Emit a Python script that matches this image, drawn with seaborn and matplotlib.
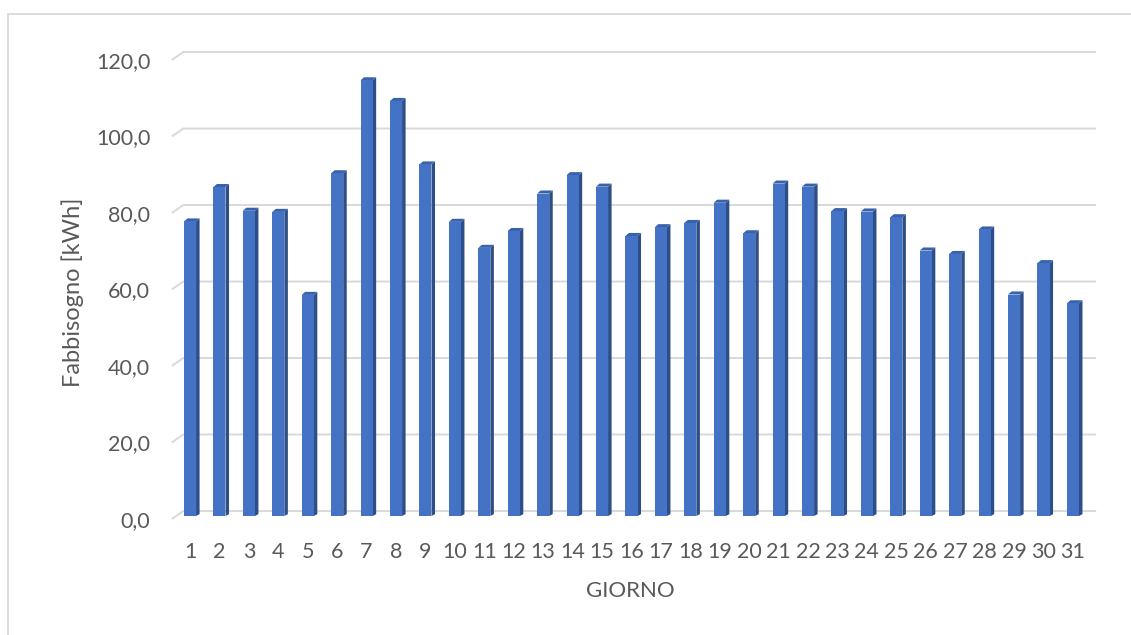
import matplotlib
matplotlib.use("Agg")
import matplotlib.pyplot as plt
from matplotlib.patches import Polygon, Rectangle
import seaborn as sns
import pandas as pd

# Daily energy demand for one month
giorni = [str(d) for d in range(1, 32)]
fabbisogno = [77.0, 86.0, 79.8, 79.5, 57.8, 89.6, 113.9, 108.5, 91.9, 76.9,
              70.1, 74.5, 84.3, 89.1, 86.1, 73.2, 75.5, 76.6, 81.9, 73.9,
              86.9, 86.1, 79.7, 79.6, 78.1, 69.4, 68.5, 74.9, 57.9, 66.1, 55.6]
y_ticks = [0, 20, 40, 60, 80, 100, 120]

df = pd.DataFrame({"giorno": giorni, "fabbisogno": fabbisogno})

sns.set_theme(style="white")
plt.rcParams["font.family"] = ["Lato", "DejaVu Sans"]

TEXT = "#595959"
GRID = "#d9d9d9"
FRONT = "#4472C4"
SIDE = "#2E4E88"
TOP = "#3962AC"

W, H = 1131, 635
fig = plt.figure(figsize=(W / 100, H / 100), dpi=100)
fig.patch.set_facecolor("white")

# plot area in pixels: x 160..1110, y 40..530
ax = fig.add_axes([160 / W, (H - 530) / H, 950 / W, 490 / H])

# pseudo-3D depth offsets (data units)
dx_bar, dy_bar = 0.12, 0.80        # bar side/top depth
front_off, back_off = -0.78, 1.30  # front edge / back wall of the floor planes
x_front, x_back, x_right = -0.62, -0.23, 30.79

# back-wall gridlines with a short diagonal on the side wall
for v in y_ticks:
    ax.plot([x_front, x_back, x_right], [v + front_off, v + back_off, v + back_off],
            color=GRID, lw=1.4, zorder=0, solid_capstyle="butt")

sns.barplot(data=df, x="giorno", y="fabbisogno", color=FRONT, saturation=1,
            width=0.41, ax=ax, zorder=3, errorbar=None, linewidth=0)

# side and top faces built from each bar's own geometry
for p in list(ax.patches):
    x0, w, h = p.get_x(), p.get_width(), p.get_height()
    x1 = x0 + w
    side = Polygon([(x1, 0), (x1 + dx_bar, dy_bar * 0.6), (x1 + dx_bar, h + dy_bar), (x1, h)],
                   closed=True, facecolor=SIDE, edgecolor="none", zorder=2.9)
    top = Polygon([(x0, h), (x0 + dx_bar, h + dy_bar), (x1 + dx_bar, h + dy_bar), (x1, h)],
                  closed=True, facecolor=TOP, edgecolor="none", zorder=2.95)
    ax.add_patch(side)
    ax.add_patch(top)

ax.set_xlim(-1.02, 31.26)
ax.set_ylim(-3.66, 124.44)

for s in ax.spines.values():
    s.set_visible(False)

ax.set_yticks([v + front_off for v in y_ticks])
ax.set_yticklabels([f"{v:.1f}".replace(".", ",") for v in y_ticks])
ax.tick_params(axis="y", length=0, pad=7, labelsize=15.5, labelcolor=TEXT)
ax.tick_params(axis="x", length=0, pad=9, labelsize=15.5, labelcolor=TEXT)

ax.set_xlabel("GIORNO", fontsize=16, color=TEXT, va="center")
ax.xaxis.set_label_coords((630 - 160) / 950, (530 - 591) / 490)
ax.set_ylabel("Fabbisogno [kWh]", fontsize=17, color=TEXT, va="center")
ax.yaxis.set_label_coords((73 - 160) / 950, (530 - 292) / 490)
ax.grid(False)

# thin chart-area frame
fig.add_artist(Rectangle((8 / W, -0.1), 1.2, (H - 14) / H + 0.1, transform=fig.transFigure,
                         fill=False, edgecolor=GRID, lw=1.3, zorder=0))

fig.savefig("out.png", dpi=100, facecolor="white")
